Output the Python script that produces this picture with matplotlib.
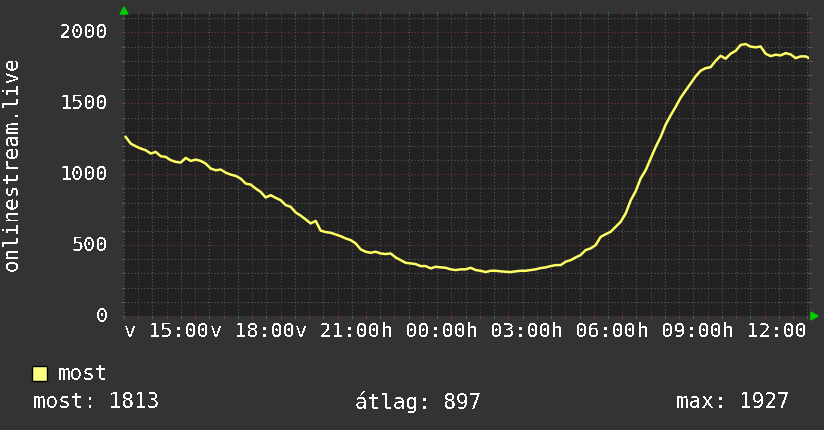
import matplotlib
matplotlib.use("Agg")
import matplotlib.pyplot as plt
import matplotlib.patches as mpatches
import numpy as np

# idő: órák vasárnap 15:00-tól, ~10.5 percenként (egy minta / 5 px)
t_start = -1.44
t_step = 0.1756
viewers = [
    1263, 1216, 1197, 1181, 1169, 1146, 1157, 1127, 1122, 1099,
    1087, 1082, 1115, 1094, 1103, 1094, 1075, 1040, 1028, 1033,
    1011, 997, 988, 969, 934, 927, 899, 875, 836, 852,
    833, 817, 782, 770, 730, 708, 681, 653, 671, 602,
    592, 587, 575, 563, 547, 535, 512, 470, 453, 446,
    453, 441, 437, 441, 413, 394, 375, 371, 366, 352,
    352, 336, 347, 343, 340, 329, 324, 329, 329, 340,
    324, 319, 310, 319, 319, 315, 312, 310, 315, 319,
    319, 324, 329, 338, 343, 352, 359, 359, 383, 394,
    413, 430, 465, 477, 500, 558, 577, 594, 629, 664,
    723, 815, 880, 970, 1028, 1110, 1192, 1263, 1350, 1415,
    1475, 1540, 1590, 1640, 1690, 1730, 1748, 1755, 1800, 1835,
    1815, 1850, 1870, 1912, 1918, 1900, 1895, 1901, 1850, 1833,
    1843, 1838, 1854, 1845, 1819, 1831, 1831, 1813,
]
hours = t_start + t_step * np.arange(len(viewers))

tick_pos = [0, 3, 6, 9, 12, 15, 18, 21]
tick_labels = ["v 15:00", "v 18:00", "v 21:00", "h 00:00",
               "h 03:00", "h 06:00", "h 09:00", "h 12:00"]
y_ticks = [0, 500, 1000, 1500, 2000]

legend_name = "most"
stat_texts = ["most: 1813", "átlag: 897", "max: 1927"]

BG = "#333333"
PLOT_BG = "#212121"
FG = "#ffffff"
LINE = "#ffff66"
MINOR = "#5a5a5a"
MAJOR = "#743838"
FONT = "DejaVu Sans Mono"
plt.rcParams["text.antialiased"] = False

W, H = 824, 430
fig = plt.figure(figsize=(W / 100, H / 100), dpi=100, facecolor=BG)
left, right, top, bottom = 124, 809, 14, 316
ax = fig.add_axes([left / W, 1 - bottom / H, (right - left) / W, (bottom - top) / H])
ax.set_facecolor(PLOT_BG)

ax.set_xlim(-1.5, 22.56)
ax.set_ylim(0, 2130)

# rács: kisebb szürke, nagyobb piros, pontozott
ax.set_xticks(np.arange(-1, 23, 1), minor=False)
ax.set_xticks(np.arange(-1.5, 22.6, 0.5), minor=True)
ax.set_yticks(np.arange(0, 2101, 500))
ax.set_yticks(np.arange(0, 2101, 100), minor=True)
ax.grid(which="minor", color=MINOR, linestyle=(0, (1, 2)), linewidth=0.8)
ax.grid(which="major", color=MAJOR, linestyle=(0, (1, 2)), linewidth=0.8)
ax.set_axisbelow(True)
ax.tick_params(which="both", direction="out", length=2, width=0.8,
               top=True, bottom=True, left=True, right=True,
               labelbottom=False, labelleft=False)
ax.tick_params(which="major", color=MAJOR)
ax.tick_params(which="minor", color=MINOR)

for s in ax.spines.values():
    s.set_visible(False)

ax.plot(hours, viewers, color=LINE, linewidth=1.8, zorder=3)

# feliratok
for p, lab in zip(tick_pos, tick_labels):
    ax.text(p, -0.05, lab, transform=ax.get_xaxis_transform(), ha="center", va="center",
            color=FG, fontsize=14.5, family=FONT)
for v in y_ticks:
    ax.text(-0.023, v, str(v), transform=ax.get_yaxis_transform(), ha="right", va="center",
            color=FG, fontsize=14.5, family=FONT)

fig.text(12 / W, 1 - 164 / H, "onlinestream.live", rotation=90, ha="center", va="center",
         color=FG, fontsize=15, family=FONT)

# zöld nyilak a tengelyek végén
fig.patches.append(mpatches.Polygon([[120 / W, 1 - 14 / H], [128 / W, 1 - 14 / H], [124 / W, 1 - 7 / H]],
                                    closed=True, transform=fig.transFigure, color="#00cc00"))
fig.patches.append(mpatches.Polygon([[811 / W, 1 - 312 / H], [811 / W, 1 - 320 / H], [818 / W, 1 - 316 / H]],
                                    closed=True, transform=fig.transFigure, color="#00cc00"))

# jelmagyarázat
fig.patches.append(mpatches.Rectangle((32 / W, 1 - 381 / H), 15 / W, 15 / H, transform=fig.transFigure,
                                      facecolor="#ffff80", edgecolor="#000000", linewidth=1))
fig.text(58 / W, 1 - 374 / H, legend_name, ha="left", va="center", color=FG, fontsize=15, family=FONT)
for xp, s in zip([33, 355, 676], stat_texts):
    fig.text(xp / W, 1 - 402 / H, s, ha="left", va="center", color=FG, fontsize=15, family=FONT)

fig.savefig("out.png", dpi=100, facecolor=BG)
